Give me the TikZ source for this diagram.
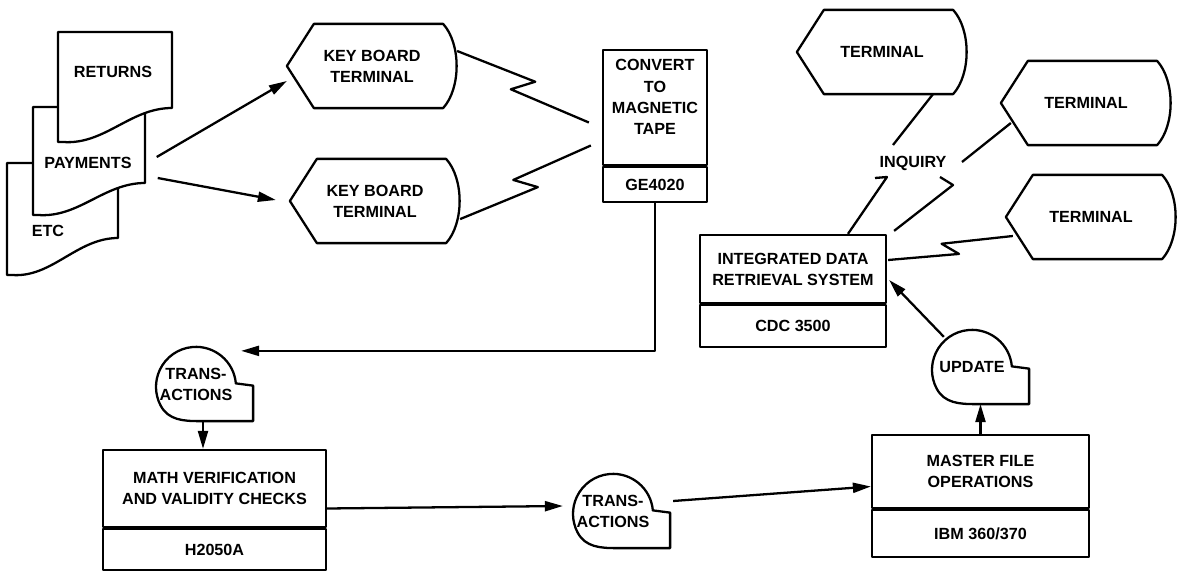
\documentclass[tikz,border=0pt]{standalone}
\usepackage{fontspec}
\setmainfont{Liberation Sans}
\usepackage{tikz}
\usetikzlibrary{positioning, arrows.meta, calc}

\begin{document}
\begin{tikzpicture}[x=0.02cm, y=0.02cm, line width=1.3pt, line join=round,
    inner sep=0pt, font=\bfseries\fontsize{9.2}{12}\selectfont,
    box/.style={draw, align=center},
    term/.style={align=center, minimum width=3.36cm, minimum height=1.64cm,
      append after command={\pgfextra{
        \draw (\tikzlastnode.west) -- ($(\tikzlastnode.north west)+(27,0)$)
          -- ($(\tikzlastnode.north east)+(-14,0)$)
          .. controls +(18,-20) and +(18,20) .. ($(\tikzlastnode.south east)+(-14,0)$)
          -- ($(\tikzlastnode.south west)+(27,0)$) -- cycle;}}},
    store/.style={align=center, minimum width=1.6cm, minimum height=1.44cm,
      append after command={\pgfextra{
        \draw ($(\tikzlastnode.north)+(0,-40)$) ++(5:40)
          arc[start angle=5, end angle=208, radius=40]
          to[out=298, in=180] ($(\tikzlastnode.south)+(4,0)$)
          -- ($(\tikzlastnode.south east)+(16,0)$) -- ++(0,35.5) -- cycle;}}},
    arr/.style={-{Triangle[length=0.36cm, width=0.2cm]}},
    zig/.style 2 args={to path={-- ($(\tikztostart)!0.56!#1:(\tikztotarget)$)
      -- ($(\tikztostart)!0.44!#2:(\tikztotarget)$) -- (\tikztotarget)}}]

  \useasboundingbox[fill=white] (0,0) rectangle (1181,-571);

  % stacked source documents, back to front
  \draw[fill=white] (7,-275) -- (7,-163) -- (118,-163) -- (118,-238)
    .. controls (77,-238) and (52,-278) .. (12,-275) -- cycle;
  \draw[fill=white] (33,-215) -- (33,-107) -- (145,-107) -- (145,-183)
    .. controls (104,-183) and (79,-218) .. (38,-215) -- cycle;
  \draw[fill=white] (58,-142) -- (58,-32) -- (172,-32) -- (172,-108)
    .. controls (130,-108) and (105,-145) .. (63,-142) -- cycle;
  \node (ret) at (113,-72) {RETURNS};
  \node (pay) at (88,-163) {PAYMENTS};
  \node (etc) at (48,-231) {ETC};

  % key entry
  \node[term] (kb1) at (372,-66) {KEY BOARD\\TERMINAL};
  \node[term] (kb2) at (375,-201) {KEY BOARD\\TERMINAL};

  \node[box, minimum width=2.08cm, minimum height=2.3cm] (conv) at (655,-107.5)
    {CONVERT\\TO\\MAGNETIC\\TAPE\\\mbox{}};
  \node[box, minimum width=2.08cm, minimum height=0.7cm, below=0pt of conv] (convcpu) {GE4020};

  \draw[arr] ($(pay.east)+(24,6)$) -- (kb1.-170);
  \draw[arr] ($(pay.east)+(25,-15)$) -- ($(kb2.west)+(-14,1)$);
  \draw (kb1.10) to[zig={7}{-7}] ($(conv.west)+(-13,-15)$);
  \draw (kb2.-12) to[zig={-7}{7}] ($(conv.west)+(-11,-38)$);

  % batch processing
  \node[store] (tr1) at (196,-384) {TRANS-\\ACTIONS};
  \node[box, minimum width=4.46cm, minimum height=1.54cm] (math) at (214.5,-488.5)
    {MATH VERIFICATION\\AND VALIDITY CHECKS};
  \node[box, minimum width=4.46cm, minimum height=0.82cm, below=0pt of math] (mathcpu) {H2050A};
  \node[store] (tr2) at (613,-511) {TRANS-\\ACTIONS};
  \node[box, minimum width=4.34cm, minimum height=1.46cm] (master) at (980.5,-471.5)
    {MASTER FILE\\OPERATIONS};
  \node[box, minimum width=4.34cm, minimum height=0.94cm, below=0pt of master] (mastercpu) {IBM 360/370};
  \node[store] (update) at (972,-367) {UPDATE};

  \draw[arr] (convcpu.south) |- ($(tr1.north east)+(4,-4)$);
  \draw[arr] ([xshift=0.14cm]tr1.south) -- ([xshift=0.14cm]tr1.south |- math.north);
  \draw[arr] ($(math.east)+(0,-20)$) -- ($(tr2.west)+(-9,5)$);
  \draw[arr] ($(tr2.east)+(19,10)$) -- ($(master.west)+(0,-15)$);
  \draw[arr] (master.north) -- (master.north |- update.south);

  % inquiry side
  \node[box, minimum width=3.72cm, minimum height=1.36cm] (idrs) at (793,-269)
    {INTEGRATED DATA\\RETRIEVAL SYSTEM};
  \node[box, minimum width=3.72cm, minimum height=0.84cm, below=0pt of idrs] (idrscpu) {CDC 3500};
  \node[term] (t1) at (882,-52) {TERMINAL};
  \node[term] (t2) at (1086,-103) {TERMINAL};
  \node[term] (t3) at (1091,-217) {TERMINAL};
  \node (inq) at (913,-163) {INQUIRY};

  \draw[arr] ($(update.north west)+(13,-7)$) -- ($(idrs.east)+(2,-11)$);
  \draw ($(t1.south)+(51,0)$) -- ($(inq)+(-20,18)$)
        ($(inq)+(-38,-15)$) -- ($(inq)+(-26,-14)$) -- ($(idrs.north)+(55,0)$);
  \draw ($(t2.west)+(10,-20)$) -- ($(inq)+(49,1)$)
        ($(inq)+(27,-14)$) -- ($(inq)+(40,-22)$) -- ($(idrs.north east)+(7,3)$);
  \draw ($(idrs.east)+(1,9)$) to[zig={-6}{6}] ($(t3.west)+(7,-19)$);

\end{tikzpicture}
\end{document}
